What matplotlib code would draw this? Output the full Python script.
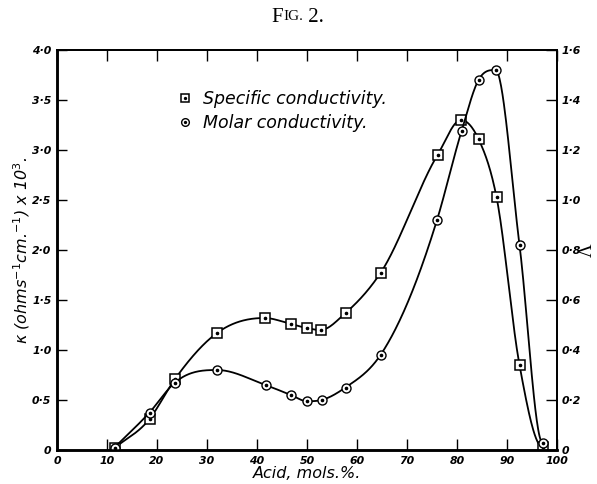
"""
Fig. 2 - specific and molar conductivity against acid content.
"""

import matplotlib
matplotlib.use("Agg")
import matplotlib.pyplot as plt
import numpy as np
from matplotlib.font_manager import FontProperties
from matplotlib.ticker import FuncFormatter, MultipleLocator

# Specific conductivity (left axis, kappa x 10^3)
acid_spec = [11.5, 18.5, 23.6, 32.0, 41.5, 46.8, 49.9, 52.7, 57.7, 64.7,
             76.1, 80.8, 84.3, 87.9, 92.5, 97.1]
kappa = [0.02, 0.31, 0.71, 1.17, 1.32, 1.26, 1.22, 1.20, 1.37, 1.77,
         2.95, 3.30, 3.11, 2.53, 0.85, 0.03]

# Molar conductivity (right axis, Lambda)
acid_molar = [11.5, 18.5, 23.6, 32.0, 41.7, 46.8, 50.0, 52.9, 57.7, 64.7,
              76.0, 80.9, 84.3, 87.7, 92.5, 97.1]
molar = [0.01, 0.15, 0.27, 0.32, 0.26, 0.22, 0.195, 0.20, 0.25, 0.38,
         0.92, 1.275, 1.48, 1.52, 0.82, 0.03]

legend_labels = ["Specific conductivity.", "Molar conductivity."]


def smooth_curve(x, y, xs):
    """Cubic Hermite through the points: 3-point slopes, flat at turning points."""
    x = np.asarray(x, float)
    y = np.asarray(y, float)
    h = np.diff(x)
    d = np.diff(y) / h
    m = np.zeros_like(y)
    m[1:-1] = (h[1:] * d[:-1] + h[:-1] * d[1:]) / (h[:-1] + h[1:])
    m[1:-1][d[:-1] * d[1:] <= 0] = 0.0
    m[0] = d[0]
    m[-1] = 0.0
    idx = np.clip(np.searchsorted(x, xs) - 1, 0, len(x) - 2)
    t = (xs - x[idx]) / h[idx]
    h00 = 2 * t**3 - 3 * t**2 + 1
    h10 = t**3 - 2 * t**2 + t
    h01 = -2 * t**3 + 3 * t**2
    h11 = t**3 - t**2
    return (h00 * y[idx] + h10 * h[idx] * m[idx]
            + h01 * y[idx + 1] + h11 * h[idx] * m[idx + 1])


def dot_fmt(v, pos):
    # 0, 0·5, 1·0 ...
    if abs(v) < 1e-9:
        return "0"
    return f"{v:.1f}".replace(".", "\u00b7")


tick_font = FontProperties(family="DejaVu Sans", style="italic",
                           weight="bold", size=7.8)

fig = plt.figure(figsize=(5.97, 4.84), dpi=100)
ax = fig.add_axes([57 / 597, 1 - 450 / 484, 500 / 597, 400 / 484])
ax2 = ax.twinx()

# curves
xs = np.linspace(acid_spec[0], acid_spec[-1], 600)
ax.plot(xs, smooth_curve(acid_spec, kappa, xs), color="black", lw=1.3)
xm = np.linspace(acid_molar[0], acid_molar[-1], 600)
ax2.plot(xm, smooth_curve(acid_molar, molar, xm), color="black", lw=1.3)

# markers with centre dot
sq = ax.plot(acid_spec, kappa, ls="none", marker="s", ms=7, mfc="white",
             mec="black", mew=1.1)[0]
sq_dot = ax.plot(acid_spec, kappa, ls="none", marker="o", ms=1.6,
                 color="black")[0]
ci = ax2.plot(acid_molar, molar, ls="none", marker="o", ms=6.5, mfc="white",
              mec="black", mew=1.0)[0]
ci_dot = ax2.plot(acid_molar, molar, ls="none", marker="o", ms=1.6,
                  color="black")[0]

ax.set_xlim(0, 100)
ax.set_ylim(0, 4.0)
ax2.set_ylim(0, 1.6)

ax.xaxis.set_major_locator(MultipleLocator(10))
ax.yaxis.set_major_locator(MultipleLocator(0.5))
ax2.yaxis.set_major_locator(MultipleLocator(0.2))
ax.yaxis.set_major_formatter(FuncFormatter(dot_fmt))
ax2.yaxis.set_major_formatter(FuncFormatter(dot_fmt))

ax.tick_params(axis="x", direction="in", top=True, length=8, width=1.0, pad=4)
ax.tick_params(axis="y", direction="in", length=7, width=1.0, pad=4)
ax2.tick_params(axis="y", direction="in", length=8, width=1.0, pad=3)
for lab in ax.get_xticklabels() + ax.get_yticklabels() + ax2.get_yticklabels():
    lab.set_fontproperties(tick_font)

for side, ww in [("left", 1.8), ("bottom", 1.8), ("top", 1.3), ("right", 1.3)]:
    ax.spines[side].set_linewidth(ww)
    ax2.spines[side].set_linewidth(ww)

ax.set_xlabel("Acid, mols.%.", style="italic", fontsize=11.5, labelpad=0)
ax.set_ylabel(r"$\kappa$ (ohms$^{-1}$cm.$^{-1}$) x 10$^{3}$.", style="italic",
              fontsize=11.5)
ax.yaxis.set_label_coords(-0.05, 0.5)
ax2.set_ylabel("\u039b", family="Liberation Serif", fontsize=13.5, rotation=90)
ax2.yaxis.set_label_coords(1.044, 0.5)

leg = ax.legend([(sq, sq_dot), (ci, ci_dot)], legend_labels,
                loc="upper left", bbox_to_anchor=(0.21, 0.94),
                frameon=False, handlelength=0.9, handletextpad=0.55,
                labelspacing=0.35, markerscale=0.85,
                prop=dict(style="italic", size=12.5))

# title in small capitals
fig.canvas.draw()
renderer = fig.canvas.get_renderer()
ty = 1 - 17 / 484
t1 = fig.text(0.455, ty, "F", family="Liberation Serif", fontsize=15,
              va="center")
x1 = t1.get_window_extent(renderer).x1 / fig.bbox.width
t2 = fig.text(x1, ty, "IG.", family="Liberation Serif", fontsize=11,
              va="center")
x2 = t2.get_window_extent(renderer).x1 / fig.bbox.width
fig.text(x2, ty, " 2.", family="Liberation Serif", fontsize=15, va="center")

# right-hand "0" sits just above the bottom spine
ax2.yaxis.get_major_ticks()[0].label2.set_va("bottom")

fig.savefig("out.png", dpi=100)
plt.close(fig)
